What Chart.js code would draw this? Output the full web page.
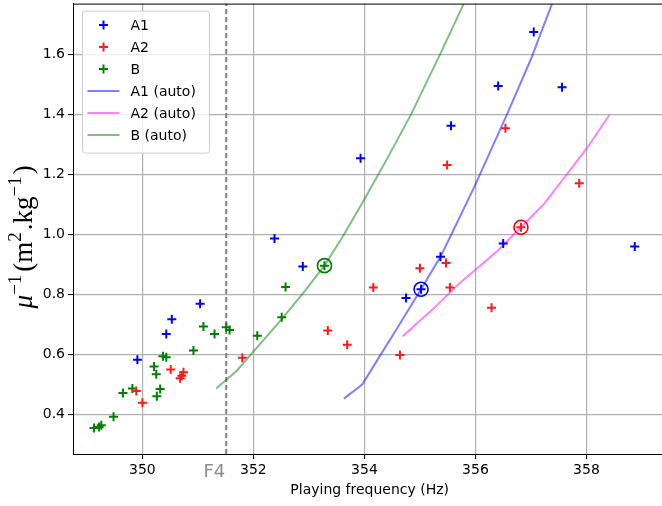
<!DOCTYPE html>
<html>
<head>
<meta charset="utf-8">
<script src="https://cdn.jsdelivr.net/npm/chart.js@4.4.0/dist/chart.umd.min.js"></script>
<style>
  html, body { margin: 0; padding: 0; background: #fff; overflow: hidden; }
  #wrap { width: 675px; height: 513px; margin-top: -5px; }
</style>
</head>
<body>
<div id="wrap"><canvas id="chart" width="675" height="513"></canvas></div>
<script>
// measured points, [frequency Hz, mu^-1]
const a1Points = [
  [349.91, 0.582], [350.43, 0.668], [350.53, 0.717], [351.04, 0.769],
  [352.38, 0.987], [352.89, 0.893], [353.93, 1.255], [354.75, 0.788],
  [355.02, 0.817], [355.37, 0.926], [355.56, 1.363], [356.41, 1.496],
  [356.50, 0.970], [357.05, 1.676], [357.56, 1.492], [358.87, 0.960]
]
const a2Points = [
  [349.89, 0.477], [350.00, 0.438], [350.51, 0.549], [350.68, 0.520],
  [350.71, 0.528], [350.74, 0.540], [351.80, 0.588], [353.34, 0.679],
  [353.69, 0.632], [354.16, 0.823], [354.64, 0.598], [355.00, 0.887],
  [355.47, 0.905], [355.49, 1.232], [355.54, 0.823], [356.29, 0.755],
  [356.54, 1.355], [356.82, 1.024], [357.87, 1.171]
]
const bPoints = [
  [349.13, 0.354], [349.22, 0.357], [349.26, 0.363], [349.48, 0.391],
  [349.65, 0.471], [349.82, 0.486], [350.21, 0.559], [350.25, 0.533],
  [350.26, 0.460], [350.32, 0.484], [350.37, 0.593], [350.43, 0.590],
  [350.92, 0.613], [351.10, 0.693], [351.30, 0.668], [351.51, 0.690],
  [351.57, 0.681], [352.07, 0.662], [352.51, 0.724], [352.58, 0.825],
  [353.28, 0.896]
]

// model curves
const a1Auto = [
  [353.63, 0.452], [353.96, 0.499], [354.29, 0.598], [354.60, 0.690],
  [355.02, 0.817], [355.38, 0.929], [355.98, 1.159], [356.58, 1.406],
  [357.00, 1.586], [357.38, 1.771]
]
const a2Auto = [
  [354.69, 0.660], [355.20, 0.745], [355.70, 0.835], [356.40, 0.946],
  [356.82, 1.024], [357.24, 1.103], [357.66, 1.204], [358.03, 1.294],
  [358.41, 1.398]
]
const bAuto = [
  [351.33, 0.486], [351.70, 0.545], [352.00, 0.609], [352.50, 0.715],
  [352.90, 0.805], [353.28, 0.896], [353.60, 0.990], [353.99, 1.114],
  [354.40, 1.250], [354.84, 1.401], [355.38, 1.608], [355.79, 1.771]
]

// circled reference points
const refPoints = [[355.02, 0.817], [356.82, 1.024], [353.28, 0.896]]
const refColors = ['#0000ff', '#ff0000', '#008000']

const F4 = 351.51
const xMin = 348.75, xMax = 359.44
const yMin = 0.267, yMax = 1.771
const xTicks = [350, 352, 354, 356, 358]
const yTicks = [0.4, 0.6, 0.8, 1.0, 1.2, 1.4, 1.6]

const xy = arr => arr.map(p => ({ x: p[0], y: p[1] }))

function scatterSet(label, pts, color) {
  return {
    label: label, data: xy(pts), legend: true,
    pointStyle: 'cross', pointRadius: 4.5, pointHoverRadius: 4.5,
    pointBorderWidth: 2, borderColor: color, backgroundColor: color, showLine: false
  }
}
function lineSet(label, pts, color) {
  return {
    label: label, data: xy(pts), legend: true, showLine: true,
    borderColor: color, borderWidth: 2, pointRadius: 0, tension: 0, fill: false
  }
}

const legendPlugin = {
  id: 'boxLegend',
  afterDraw(chart) {
    const ctx = chart.ctx
    const area = chart.chartArea
    const sets = chart.data.datasets.filter(d => d.legend)
    const x0 = area.left + 9.5, y0 = area.top + 7.5, w = 127, h = 142
    ctx.save()
    ctx.beginPath()
    ctx.roundRect(x0, y0, w, h, 3)
    ctx.fillStyle = 'rgba(255,255,255,0.8)'
    ctx.fill()
    ctx.strokeStyle = '#cccccc'
    ctx.lineWidth = 1
    ctx.stroke()
    ctx.font = '14px "DejaVu Sans"'
    ctx.textBaseline = 'middle'
    sets.forEach((d, i) => {
      const y = y0 + 14 + i * 22
      ctx.strokeStyle = d.borderColor
      ctx.lineWidth = 2
      ctx.beginPath()
      if (d.showLine) {
        ctx.moveTo(x0 + 5, y); ctx.lineTo(x0 + 37, y)
      } else {
        const cx = x0 + 21
        ctx.moveTo(cx - 4.5, y); ctx.lineTo(cx + 4.5, y)
        ctx.moveTo(cx, y - 4.5); ctx.lineTo(cx, y + 4.5)
      }
      ctx.stroke()
      ctx.fillStyle = '#000'
      ctx.fillText(d.label, x0 + 48, y + 1)
    })
    ctx.restore()
  }
}

const extrasPlugin = {
  id: 'extras',
  afterDraw(chart) {
    const ctx = chart.ctx
    const area = chart.chartArea
    const xs = chart.scales.x
    ctx.save()
    // frame top/right
    ctx.strokeStyle = '#000'
    ctx.lineWidth = 1
    ctx.strokeRect(area.left + 0.5, area.top + 0.5, area.right - area.left, area.bottom - area.top)
    // F4 label
    ctx.fillStyle = '#8c8c8c'
    ctx.font = '18px "DejaVu Sans"'
    ctx.textAlign = 'right'
    ctx.textBaseline = 'alphabetic'
    ctx.fillText('F4', xs.getPixelForValue(F4) - 1, area.bottom + 23)
    // y axis label with superscripts
    const segs = [
      { t: 'μ', it: true }, { t: '−1', sup: true, gap: 3 }, { t: '(m' }, { t: '2', sup: true, gap: 2 },
      { t: '.kg' }, { t: '−1', sup: true, gap: 2 }, { t: ')' }
    ]
    const base = 27, small = 19
    const fontOf = s => (s.it ? 'italic ' : '') + (s.sup ? small : base) + 'px "Liberation Serif"'
    let total = 0
    segs.forEach(s => { ctx.font = fontOf(s); s.w = ctx.measureText(s.t).width + (s.gap || 0); total += s.w })
    ctx.translate(32, (area.top + area.bottom) / 2 + 8)
    ctx.rotate(-Math.PI / 2)
    ctx.fillStyle = '#000'
    ctx.textAlign = 'left'
    let x = -total / 2
    segs.forEach(s => {
      ctx.font = fontOf(s)
      ctx.fillText(s.t, x, s.sup ? -11 : 0)
      x += s.w
    })
    ctx.restore()
  }
}

const ctx = document.getElementById('chart').getContext('2d')
new Chart(ctx, {
  type: 'scatter',
  data: {
    datasets: [
      scatterSet('A1', a1Points, '#0000ff'),
      scatterSet('A2', a2Points, '#ff1a1a'),
      scatterSet('B', bPoints, '#008000'),
      lineSet('A1 (auto)', a1Auto, 'rgba(0,0,255,0.5)'),
      lineSet('A2 (auto)', a2Auto, 'rgba(255,0,255,0.5)'),
      lineSet('B (auto)', bAuto, 'rgba(0,128,0,0.5)'),
      {
        label: 'ref', data: xy(refPoints), pointStyle: 'circle', pointRadius: 7,
        pointBorderWidth: 1.6, pointBackgroundColor: 'rgba(0,0,0,0)',
        pointBorderColor: refColors, showLine: false
      },
      {
        label: 'F4 line', data: [{ x: F4, y: yMin }, { x: F4, y: yMax }], showLine: true,
        borderColor: '#808080', borderWidth: 2, borderDash: [5, 3], pointRadius: 0
      }
    ]
  },
  options: {
    responsive: false,
    animation: false,
    devicePixelRatio: 1,
    layout: { padding: { top: 5, right: 5, left: 0, bottom: 0 } },
    plugins: { legend: { display: false }, tooltip: { enabled: false } },
    scales: {
      x: {
        type: 'linear', min: xMin, max: xMax,
        afterFit: s => { s.height = 54; s.paddingLeft = 0; s.paddingRight = 0 },
        afterBuildTicks: s => { s.ticks = xTicks.map(v => ({ value: v })) },
        ticks: { font: { family: 'DejaVu Sans', size: 14 }, color: '#000', padding: 3, maxRotation: 0 },
        grid: { color: '#b0b0b0', lineWidth: 1.2, tickColor: '#000', tickLength: 5, tickWidth: 1 },
        border: { color: '#000', width: 1 },
        title: { display: true, text: 'Playing frequency (Hz)', color: '#000',
                 font: { family: 'DejaVu Sans', size: 14 }, padding: { top: 0, bottom: 9 } }
      },
      y: {
        type: 'linear', min: yMin, max: yMax,
        afterFit: s => { s.width = 73; s.paddingTop = 0; s.paddingBottom = 0 },
        afterBuildTicks: s => { s.ticks = yTicks.map(v => ({ value: v })) },
        ticks: { font: { family: 'DejaVu Sans', size: 14 }, color: '#000', padding: 3,
                 callback: v => v.toFixed(1) },
        grid: { color: '#b0b0b0', lineWidth: 1.2, tickColor: '#000', tickLength: 5, tickWidth: 1 },
        border: { color: '#000', width: 1 }
      }
    }
  },
  plugins: [legendPlugin, extrasPlugin]
})
</script>
</body>
</html>
